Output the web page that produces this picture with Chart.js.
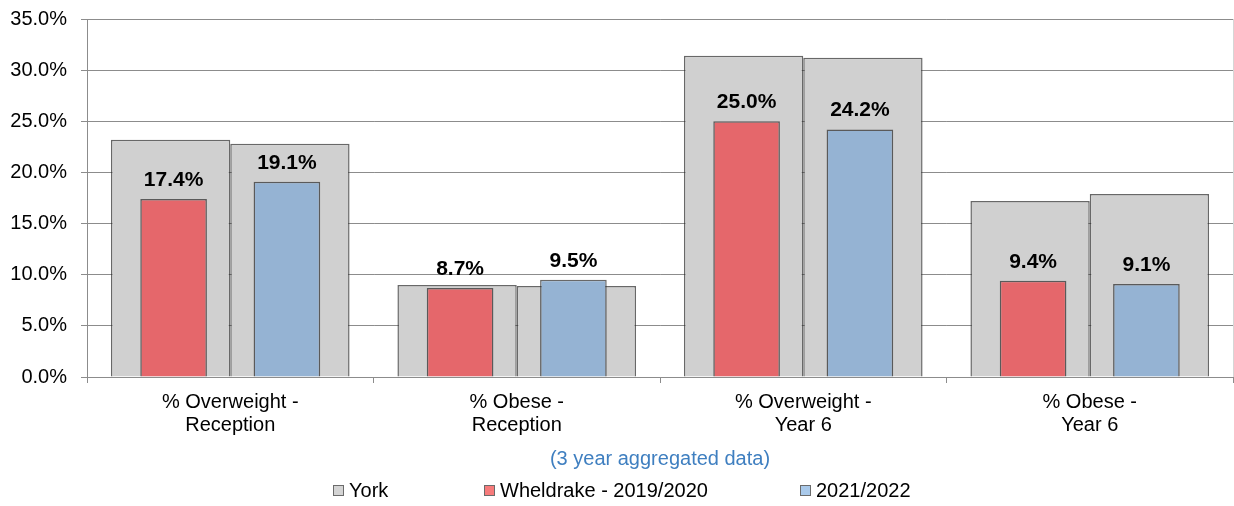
<!DOCTYPE html>
<html>
<head>
<meta charset="utf-8">
<title>Child weight measurements</title>
<script src="https://cdn.jsdelivr.net/npm/chart.js@4.4.1/dist/chart.umd.min.js"></script>
<style>
    html, body { margin: 0; padding: 0; background: #fff; }
    #wrap { position: relative; width: 1234px; height: 506px; }
    #legend {
        position: absolute;
        left: 333px;
        top: 479px;
        display: flex;
        font: 20px 'Liberation Sans', Arial, sans-serif;
        color: #000;
        line-height: 22px;
    }
    #legend .item { display: flex; align-items: center; }
    #legend .item:nth-child(1) { width: 151px; }
    #legend .item:nth-child(2) { width: 316px; }
    #legend .swatch {
        width: 9px;
        height: 9px;
        border: 1.5px solid #6b6b6b;
        margin-right: 5px;
    }
</style>
</head>
<body>
<div id="wrap">
    <canvas id="chart-weight" width="1234" height="506"></canvas>
    <div id="legend"></div>
</div>
<script>
const categories = [
    ['% Overweight -', 'Reception'],
    ['% Obese -', 'Reception'],
    ['% Overweight -', 'Year 6'],
    ['% Obese -', 'Year 6']
];

// York background bars (one per period)
const york1920 = [23.2, 9.0, 31.4, 17.2];
const york2122 = [22.8, 8.9, 31.2, 17.9];

// Wheldrake bars drawn in front
const wheldrake1920 = [17.4, 8.7, 25.0, 9.4];
const wheldrake2122 = [19.1, 9.5, 24.2, 9.1];

const yMin = 0;
const yMax = 35;
const yStep = 5;

const legendLabels = ['York', 'Wheldrake - 2019/2020', '2021/2022'];
const legendColors = ['#d4d4d4', '#f77b7b', '#a9c9ea'];

const FONT = "'Liberation Sans', Arial, sans-serif";

// Bold value labels above the Wheldrake bars
const valueLabels = {
    id: 'valueLabels',
    afterDatasetsDraw(chart) {
        const ctx = chart.ctx;
        ctx.save();
        ctx.font = `bold 21px ${FONT}`;
        ctx.fillStyle = '#000';
        ctx.textAlign = 'center';
        ctx.textBaseline = 'alphabetic';
        chart.data.datasets.forEach((ds, i) => {
            if (!ds.showValues) return;
            const meta = chart.getDatasetMeta(i);
            meta.data.forEach((bar, j) => {
                ctx.fillText(ds.data[j].toFixed(1) + '%', bar.x, bar.y - 13);
            });
        });
        ctx.restore();
    }
};

// Faint right-hand edge of the plot area
const plotEdge = {
    id: 'plotEdge',
    afterDraw(chart) {
        const { ctx, chartArea } = chart;
        ctx.save();
        ctx.strokeStyle = '#d6d6d6';
        ctx.lineWidth = 1;
        ctx.beginPath();
        ctx.moveTo(chartArea.right + 0.5, chartArea.top);
        ctx.lineTo(chartArea.right + 0.5, chartArea.bottom);
        ctx.stroke();
        ctx.restore();
    }
};

// Each period is one stack slot: the York bar sits behind the Wheldrake bar
const yorkStyle = {
    backgroundColor: '#d0d0d0',
    borderColor: 'rgba(40, 40, 40, 0.7)',
    borderWidth: 1.5,
    categoryPercentage: 0.833,
    barPercentage: 1.0,
    order: 2
};

const frontStyle = {
    borderColor: 'rgba(40, 40, 40, 0.7)',
    borderWidth: 1.5,
    categoryPercentage: 0.791,
    barPercentage: 0.588,
    order: 1,
    showValues: true
};

new Chart(document.getElementById('chart-weight'), {
    type: 'bar',
    data: {
        labels: categories,
        datasets: [
            { ...yorkStyle, label: 'York', stack: 'p1', data: york1920 },
            { ...yorkStyle, label: 'York 2021/2022', stack: 'p2', data: york2122 },
            { ...frontStyle, label: 'Wheldrake - 2019/2020', stack: 'p1', data: wheldrake1920, backgroundColor: '#e5676b' },
            { ...frontStyle, label: '2021/2022', stack: 'p2', data: wheldrake2122, backgroundColor: '#95b3d3' }
        ]
    },
    options: {
        responsive: false,
        animation: false,
        layout: {
            padding: { top: 19, right: 1, bottom: 35, left: 0 }
        },
        plugins: {
            legend: { display: false },
            tooltip: { enabled: false }
        },
        scales: {
            x: {
                type: 'category',
                offset: true,
                z: 1,
                afterFit: (axis) => { axis.height = 94; },
                grid: {
                    offset: true,
                    drawOnChartArea: false,
                    color: '#8c8c8c',
                    tickLength: 6
                },
                border: { color: '#8c8c8c', width: 1 },
                ticks: {
                    color: '#000',
                    padding: 8,
                    maxRotation: 0,
                    font: { family: FONT, size: 20, lineHeight: 1.15 }
                },
                title: {
                    display: true,
                    text: '(3 year aggregated data)',
                    color: '#3f7fc0',
                    padding: 0,
                    font: { family: FONT, size: 20, lineHeight: 1.2 }
                }
            },
            y: {
                min: yMin,
                max: yMax,
                stacked: false,
                z: 1,
                afterFit: (axis) => {
                    axis.width = 87;
                    axis.paddingTop = 0;
                    axis.paddingBottom = 0;
                },
                grid: {
                    color: 'rgba(0, 0, 0, 0.45)',
                    tickLength: 6
                },
                border: { color: '#8c8c8c', width: 1 },
                ticks: {
                    stepSize: yStep,
                    color: '#000',
                    padding: 14,
                    font: { family: FONT, size: 20 },
                    callback: (v) => v.toFixed(1) + '%'
                }
            }
        }
    },
    plugins: [valueLabels, plotEdge]
});

// Legend built from the series names and colours
const legendEl = document.getElementById('legend');
legendLabels.forEach((text, i) => {
    const item = document.createElement('div');
    item.className = 'item';
    const sw = document.createElement('span');
    sw.className = 'swatch';
    sw.style.background = legendColors[i];
    item.appendChild(sw);
    item.appendChild(document.createTextNode(text));
    legendEl.appendChild(item);
});
</script>
</body>
</html>
